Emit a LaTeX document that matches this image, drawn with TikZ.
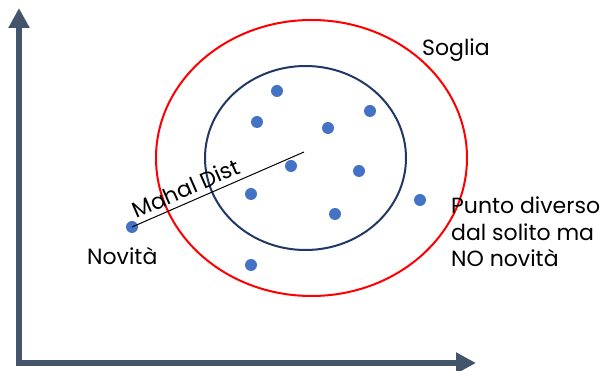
\documentclass[tikz,border=0pt]{standalone}
\usepackage{fontspec}
\setmainfont{Poppins}
\usetikzlibrary{arrows.meta}
\definecolor{axisgray}{HTML}{44546A}
\definecolor{dotblue}{HTML}{4472C4}
\definecolor{innernavy}{HTML}{1F3864}
\definecolor{outerred}{HTML}{FF0000}
\tikzset{
  axis/.style={draw=axisgray, line width=6.5pt, -{Triangle[length=20pt,width=20pt]}},
  sample/.style={circle, fill=dotblue, inner sep=0pt, minimum size=12pt},
  label/.style={font=\fontsize{22}{26.5}\selectfont, inner sep=0pt},
  distlabel/.style={font=\fontsize{22}{26}\selectfont, inner sep=0pt},
}
\begin{document}
\begin{tikzpicture}[x=1pt, y=-1pt]
  \useasboundingbox (0,0) rectangle (606,371);
  % axes
  \coordinate (origin) at (19,363);
  \coordinate (ytip) at (19,8);
  \coordinate (xtip) at (476,363);
  \draw[axis] ([yshift=3.25pt]origin) -- (ytip);
  \draw[axis] ([xshift=-3.25pt]origin) -- (xtip);
  % threshold and inner region
  \draw[outerred, line width=2pt] (311.5,158) ellipse [x radius=155.5, y radius=138];
  \draw[innernavy, line width=2pt] (305.5,158) ellipse [x radius=100.5, y radius=92];
  % samples
  \node[sample] (p1) at (277,91) {};
  \node[sample] (p2) at (257,122) {};
  \node[sample] (p3) at (328,128) {};
  \node[sample] (p4) at (370,111) {};
  \node[sample] (p5) at (291,166) {};
  \node[sample] (p6) at (359,171) {};
  \node[sample] (p7) at (251,194) {};
  \node[sample] (p8) at (335,214) {};
  \node[sample] (p9) at (420,200) {};
  \node[sample] (p10) at (251,265) {};
  \node[sample] (nov) at (132,227) {};
  % distance to the centre
  \coordinate (centre) at (304,152);
  \draw[black, line width=1pt] (nov.center) -- node[midway, sloped, above=5pt, distlabel, xshift=-29pt] {Mahal Dist} (centre);
  % labels
  \node[label, anchor=base west] (soglia) at (422,56) {Soglia};
  \node[label, anchor=base west] (nlabel) at (87,265) {Novità};
  \node[label, anchor=north west, align=left] (punto) at (451,197) {Punto diverso\\dal solito ma\\NO novità};
\end{tikzpicture}
\end{document}
